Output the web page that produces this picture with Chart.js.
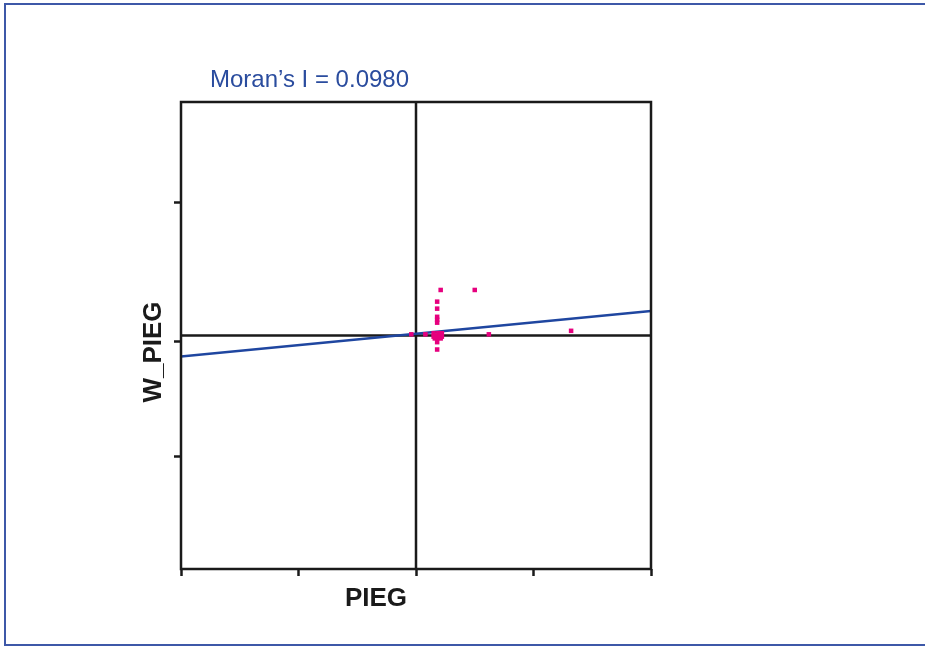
<!DOCTYPE html>
<html>
<head>
<meta charset="utf-8">
<script src="https://cdn.jsdelivr.net/npm/chart.js@4"></script>
<style>
  html, body { margin: 0; padding: 0; background: #fff; overflow: hidden; }
  #frame { position: absolute; left: 4px; top: 3px; width: 1000px; height: 643px; border: 2px solid #3d58a8; box-sizing: border-box; }
  #wrap { position: absolute; left: 0; top: 0; width: 925px; height: 646px; }
</style>
</head>
<body>
<div id="frame"></div>
<div id="wrap"><canvas id="myChart"></canvas></div>
<script>
// scatter points (PIEG vs W_PIEG)
const pointsX = [0.21, 0.50, 0.18, 0.18, 0.18, 0.18, 0.18,
  0.15, 0.19, 0.22, 0.15, 0.19, 0.22, 0.17, 0.20, 0.16, 0.21,
  0.18, 0.18, -0.04, 0.08, 0.62, 1.32]
const pointsY = [0.39, 0.39, 0.29, 0.23, 0.16, 0.135, 0.11,
  0.02, 0.02, 0.02, -0.01, -0.02, -0.01, 0.0, 0.005, -0.025, -0.025,
  -0.057, -0.12, 0.01, 0.01, 0.01, 0.04]

// regression line ends
const fitX = [-2, 2]
const fitY = [-0.18, 0.21]

const xTicks = [-2, -1, 0, 1, 2]
const yTicks = [1.14, -0.05, -1.04]

const titleText = "Moran’s I = 0.0980"
const xLabel = "PIEG"
const yLabel = "W_PIEG"

const chartDOM = document.getElementById("myChart")

const scatterData = pointsX.map((x, i) => ({ x: x, y: pointsY[i] }))
const fitData = fitX.map((x, i) => ({ x: x, y: fitY[i] }))

const quadrantPlugin = {
  id: "quadrant",
  beforeDatasetsDraw(chart) {
    const { ctx, chartArea, scales } = chart
    const x0 = scales.x.getPixelForValue(0)
    const y0 = scales.y.getPixelForValue(0)
    ctx.save()
    ctx.strokeStyle = "#1a1a1a"
    ctx.lineWidth = 2.5
    ctx.beginPath()
    ctx.moveTo(x0, chartArea.top)
    ctx.lineTo(x0, chartArea.bottom)
    ctx.moveTo(chartArea.left, y0)
    ctx.lineTo(chartArea.right, y0)
    ctx.stroke()
    ctx.restore()
  },
  afterDraw(chart) {
    const { ctx, chartArea } = chart
    ctx.save()
    ctx.strokeStyle = "#1a1a1a"
    ctx.lineWidth = 2.5
    ctx.strokeRect(chartArea.left, chartArea.top, chartArea.right - chartArea.left, chartArea.bottom - chartArea.top)

    ctx.fillStyle = "#2a4c9e"
    ctx.font = "24px Arial, 'Liberation Sans', sans-serif"
    ctx.textAlign = "left"
    ctx.textBaseline = "alphabetic"
    ctx.fillText(titleText, chartArea.left + 29, chartArea.top - 15)

    ctx.fillStyle = "#1a1a1a"
    ctx.font = "bold 26px Arial, 'Liberation Sans', sans-serif"
    ctx.textAlign = "center"
    ctx.fillText(xLabel, chartArea.left + 195, chartArea.bottom + 37)

    ctx.translate(chartArea.left - 20, chartArea.top + 250)
    ctx.rotate(-Math.PI / 2)
    ctx.fillText(yLabel, 0, 0)
    ctx.restore()
  }
}

const config = {
  type: "scatter",
  data: {
    datasets: [{
      label: "points",
      data: scatterData,
      backgroundColor: "#e6007e",
      borderWidth: 0,
      pointStyle: "rect",
      pointRadius: 3.2,
      order: 1
    }, {
      type: "line",
      label: "fit",
      data: fitData,
      borderColor: "#1f46a0",
      borderWidth: 2.5,
      pointRadius: 0,
      fill: false,
      order: 2
    }]
  },
  plugins: [quadrantPlugin],
  options: {
    responsive: true,
    maintainAspectRatio: false,
    animation: false,
    layout: { padding: { left: 174, right: 274, top: 102, bottom: 70 } },
    plugins: { legend: { display: false }, tooltip: { enabled: false } },
    scales: {
      x: {
        type: "linear",
        min: -2,
        max: 2,
        afterBuildTicks: (axis) => { axis.ticks = xTicks.map(v => ({ value: v })) },
        ticks: { display: false },
        grid: { drawOnChartArea: false, drawTicks: true, tickLength: 7, color: "#1a1a1a", tickWidth: 2.5 },
        border: { display: false }
      },
      y: {
        type: "linear",
        min: -2,
        max: 2,
        afterBuildTicks: (axis) => { axis.ticks = yTicks.map(v => ({ value: v })) },
        ticks: { display: false },
        grid: { drawOnChartArea: false, drawTicks: true, tickLength: 7, color: "#1a1a1a", tickWidth: 2.5 },
        border: { display: false }
      }
    }
  }
}

new Chart(chartDOM, config)
</script>
</body>
</html>
